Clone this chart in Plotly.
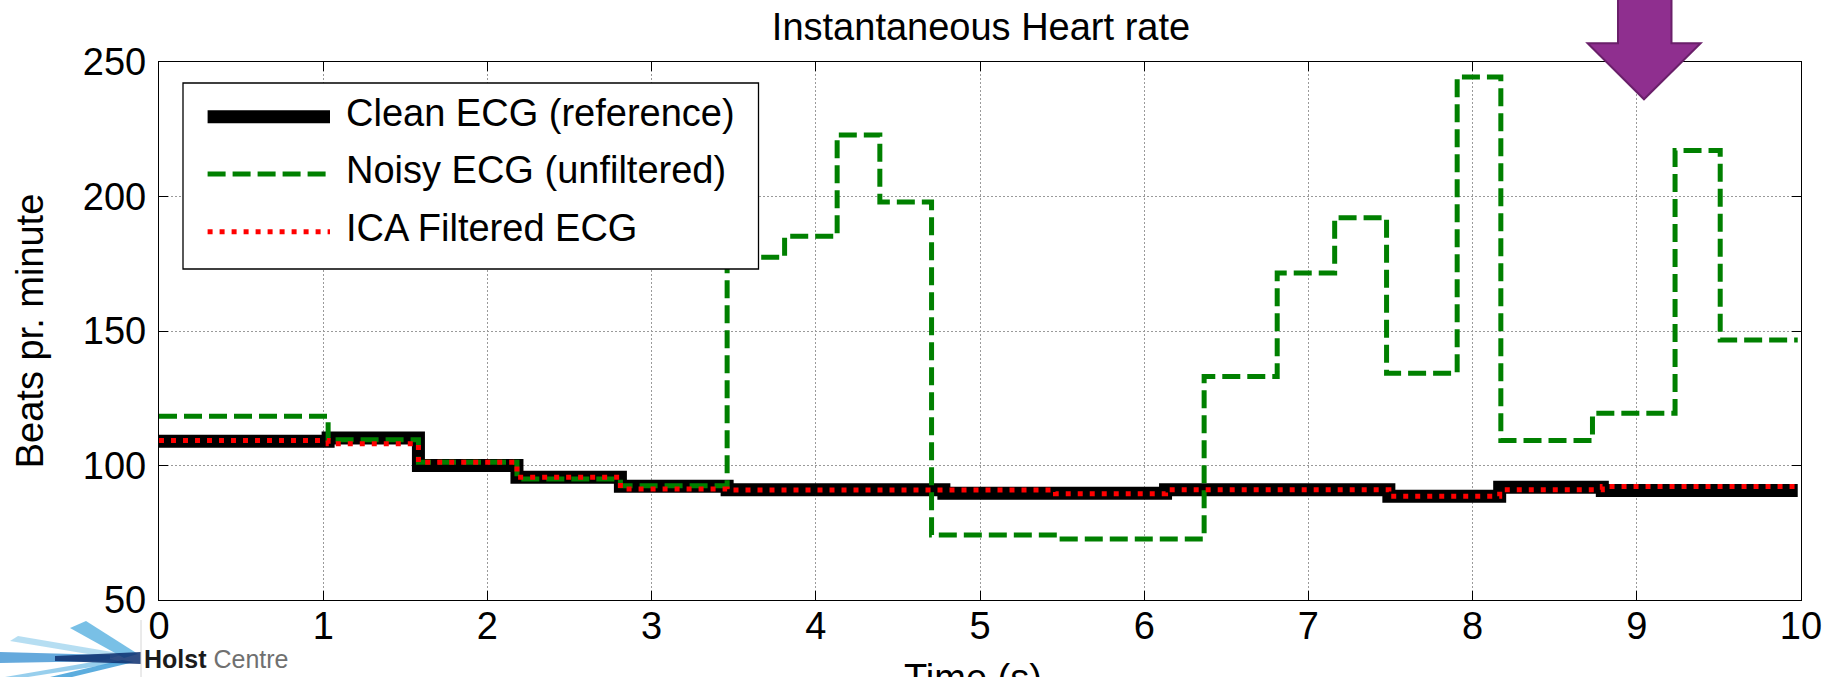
import plotly.graph_objects as go

# ---------------- data ----------------
clean_t = [0, 1.03, 1.58, 2.18, 2.81, 3.46, 4.78, 6.13, 7.49, 8.165, 8.79, 9.98]
clean_bpm = [109.0, 110.2, 100.0, 95.6, 92.3, 91.0, 89.7, 91.0, 88.6, 91.9, 90.7, 90.7]

noisy_t = [0, 1.03, 1.58, 2.18, 2.81, 3.46, 3.81, 4.13, 4.39, 4.705, 5.50, 6.365,
           6.81, 7.16, 7.476, 7.906, 8.172, 8.73, 9.233, 9.508, 9.98]
noisy_bpm = [118.3, 109.6, 101.2, 95.0, 92.5, 177.4, 185.2, 222.9, 198.0, 74.2, 72.7, 133.1,
             171.6, 192.1, 134.3, 244.4, 109.3, 119.4, 217.1, 146.7, 146.7]

ica_t = [0, 1.03, 1.58, 2.18, 2.81, 3.46, 5.46, 6.13, 7.49, 8.165, 8.79, 9.98]
ica_bpm = [109.3, 108.1, 101.2, 95.6, 91.3, 90.9, 89.5, 91.0, 88.6, 91.0, 92.2, 92.2]

series_names = ["Clean ECG (reference)", "Noisy ECG (unfiltered)", "ICA Filtered ECG"]
x_ticks = list(range(0, 11))
y_ticks = [50, 100, 150, 200, 250]

# ---------------- layout geometry ----------------
W, H = 1833, 677
ML, MR, MT, MB = 159, 32, 62, 77
PW, PH = W - ML - MR, H - MT - MB
FONT = "Liberation Sans, Arial, sans-serif"


def px(x):
    return (x - ML) / PW


def py(y):
    return (H - MB - y) / PH


fig = go.Figure()
fig.add_trace(go.Scatter(x=clean_t, y=clean_bpm, mode="lines", line_shape="hv",
                         name=series_names[0], showlegend=False,
                         line=dict(color="black", width=13)))
fig.add_trace(go.Scatter(x=noisy_t, y=noisy_bpm, mode="lines", line_shape="hv",
                         name=series_names[1], showlegend=False,
                         line=dict(color="#008000", width=5, dash="18px,7px")))
fig.add_trace(go.Scatter(x=ica_t, y=ica_bpm, mode="lines", line_shape="hv",
                         name=series_names[2], showlegend=False,
                         line=dict(color="#ff0000", width=5, dash="5px,7px")))

shapes = []
annotations = []

# legend box
shapes.append(dict(type="rect", xref="paper", yref="paper", layer="above",
                   x0=px(183), x1=px(758.5), y0=py(269), y1=py(83),
                   line=dict(color="black", width=1.3), fillcolor="white"))
leg_styles = [dict(color="black", width=13),
              dict(color="#008000", width=5, dash="18px,7px"),
              dict(color="#ff0000", width=5, dash="5px,7px")]
leg_y = [116.7, 174, 231.7]
for name, st, yy in zip(series_names, leg_styles, leg_y):
    shapes.append(dict(type="line", xref="paper", yref="paper", layer="above",
                       x0=px(207.6), x1=px(330), y0=py(yy), y1=py(yy), line=st))
    annotations.append(dict(text=name, xref="paper", yref="paper", x=px(343.5), y=py(yy - 4),
                            xanchor="left", yanchor="middle", showarrow=False,
                            font=dict(size=38, color="black", family=FONT)))

# purple arrow
arrow = [(1618, -5), (1671.5, -5), (1671.5, 43.3), (1700.6, 43.3), (1644, 99.3),
         (1587.6, 43.3), (1618, 43.3)]
path = "M " + " L ".join(f"{px(a):.5f},{py(b):.5f}" for a, b in arrow) + " Z"
shapes.append(dict(type="path", xref="paper", yref="paper", layer="above", path=path,
                   fillcolor="#8f2f8f", line=dict(color="#6a1f6a", width=2)))

# logo (Holst Centre)
feathers = [
    ([(10, 641), (18, 636), (124, 654), (112, 658)], "#a9d8f0"),
    ([(70, 628), (86, 621), (138, 654), (124, 658)], "#62b5e2"),
    ([(0, 652), (0, 663), (110, 661), (110, 655)], "#4a9ad6"),
    ([(5, 677), (28, 677), (124, 662), (110, 659)], "#86c7ea"),
    ([(50, 677), (72, 677), (134, 662), (122, 660)], "#3f9fd8"),
    ([(55, 656), (141, 652), (141, 664), (55, 661)], "#0d2f6e"),
]
for pts, col in feathers:
    p = "M " + " L ".join(f"{px(a):.5f},{py(b):.5f}" for a, b in pts) + " Z"
    shapes.append(dict(type="path", xref="paper", yref="paper", layer="above", path=p,
                       fillcolor=col, opacity=0.85, line=dict(width=0)))
shapes.append(dict(type="line", xref="paper", yref="paper", layer="above",
                   x0=px(141), x1=px(141), y0=py(620), y1=py(680),
                   line=dict(color="#d6d6d6", width=1)))
annotations.append(dict(text="<b><span style='color:#1b1b1b'>Holst</span></b> "
                             "<span style='color:#707070'>Centre</span>",
                        xref="paper", yref="paper", x=px(142), y=py(659),
                        xanchor="left", yanchor="middle", showarrow=False,
                        font=dict(size=25, family=FONT)))

# x-axis title (partly cut off at the bottom, as in the reference)
annotations.append(dict(text="Time (s)", xref="paper", yref="paper", x=px(973), y=py(655),
                        xanchor="center", yanchor="top", showarrow=False,
                        font=dict(size=38, color="black", family=FONT)))

axis_common = dict(showline=True, linecolor="black", linewidth=1.3, mirror="ticks",
                   ticks="inside", ticklen=9, tickcolor="black", tickwidth=1.3,
                   showgrid=True, gridcolor="#9a9a9a", gridwidth=1, griddash="2px,2px",
                   zeroline=False, tickfont=dict(size=38, color="black", family=FONT))

fig.update_layout(
    width=W, height=H, margin=dict(l=ML, r=MR, t=MT, b=MB, autoexpand=False),
    paper_bgcolor="white", plot_bgcolor="white",
    title=dict(text="Instantaneous Heart rate", x=px(981), xref="paper", xanchor="center",
               y=1 - 27 / H, yref="container", yanchor="middle",
               font=dict(size=38, color="black", family=FONT)),
    xaxis=dict(range=[0, 10], tickvals=x_ticks, ticklabelstandoff=-8, **axis_common),
    yaxis=dict(range=[50, 250], tickvals=y_ticks, ticklabelstandoff=4,
               title=dict(text="Beats pr. minute", standoff=27,
                          font=dict(size=38, color="black", family=FONT)),
               **axis_common),
    shapes=shapes, annotations=annotations, showlegend=False,
)

fig.write_html("out.html")
